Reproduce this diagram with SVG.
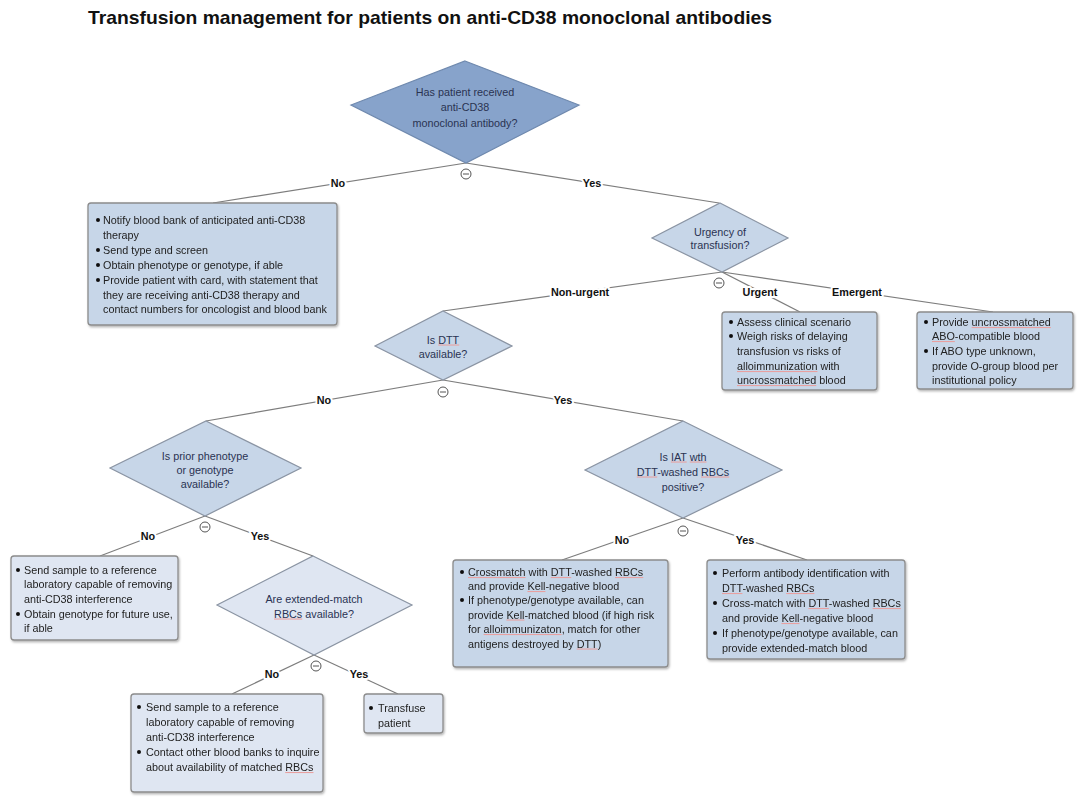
<svg xmlns="http://www.w3.org/2000/svg" width="1084" height="803" viewBox="0 0 1084 803">
<style>
text{font-family:"Liberation Sans",Arial,sans-serif;}
.title{font-size:19px;font-weight:bold;fill:#111;}
.dt{font-size:10.8px;fill:#2a3352;text-anchor:middle;}
.bt{font-size:10.8px;fill:#222;}
.lbl{font-size:10.8px;font-weight:bold;fill:#111;text-anchor:middle;stroke:#fff;stroke-width:4;paint-order:stroke;stroke-linejoin:round;}
.c1{fill:#87a3cb;stroke:#6f89ae;stroke-width:1.2;}
.c2{fill:#c7d6e8;stroke:#8a94a3;stroke-width:1.2;}
.c3{fill:#dfe6f2;stroke:#8a94a3;stroke-width:1.2;}
.box{stroke:#8c8c8c;stroke-width:1.3;}
.con line{stroke:#7d7d7d;stroke-width:1.2;}
.mc circle{fill:#fff;stroke:#555;stroke-width:1;}
.mc line{stroke:#555;stroke-width:1;}
.sp{text-decoration:underline;fill:#e8a0a0;}
.sp tspan{fill:#222;}
.dt .sp tspan{fill:#2a3352;}
</style>
<defs>
<filter id="sh" x="-10%" y="-10%" width="125%" height="130%">
<feDropShadow dx="1" dy="1.5" stdDeviation="1.2" flood-color="#000" flood-opacity="0.3"/>
</filter>
<symbol id="bul" overflow="visible"><circle cx="0" cy="0" r="2" fill="#111"/></symbol>
</defs>
<rect width="1084" height="803" fill="#fff"/>
<text class="title" x="88" y="24" textLength="684" lengthAdjust="spacingAndGlyphs">Transfusion management for patients on anti-CD38 monoclonal antibodies</text>

<g id="connectors" class="con">
<line x1="466" y1="163" x2="213" y2="203"/>
<line x1="466" y1="163" x2="719" y2="203"/>
<line x1="722" y1="272" x2="443" y2="311"/>
<line x1="722" y1="272" x2="800" y2="312"/>
<line x1="722" y1="272" x2="993" y2="312"/>
<line x1="443" y1="380" x2="206" y2="421"/>
<line x1="443" y1="380" x2="683" y2="421"/>
<line x1="205" y1="516" x2="100" y2="556"/>
<line x1="205" y1="516" x2="313" y2="556"/>
<line x1="683" y1="518" x2="562" y2="560"/>
<line x1="683" y1="518" x2="807" y2="560"/>
<line x1="314" y1="655" x2="232" y2="694"/>
<line x1="314" y1="655" x2="398" y2="694"/>
<g class="mc">
<circle cx="466" cy="174" r="5"/><line x1="463" y1="174" x2="469" y2="174"/>
<circle cx="719" cy="283" r="5"/><line x1="716" y1="283" x2="722" y2="283"/>
<circle cx="443" cy="392" r="5"/><line x1="440" y1="392" x2="446" y2="392"/>
<circle cx="205" cy="527" r="5"/><line x1="202" y1="527" x2="208" y2="527"/>
<circle cx="683" cy="531" r="5"/><line x1="680" y1="531" x2="686" y2="531"/>
<circle cx="316" cy="666" r="5"/><line x1="313" y1="666" x2="319" y2="666"/>
</g>
<text class="lbl" x="338" y="187">No</text>
<text class="lbl" x="592" y="187">Yes</text>
<text class="lbl" x="580" y="296">Non-urgent</text>
<text class="lbl" x="760" y="296">Urgent</text>
<text class="lbl" x="857" y="296">Emergent</text>
<text class="lbl" x="324" y="404">No</text>
<text class="lbl" x="563" y="404">Yes</text>
<text class="lbl" x="148" y="540">No</text>
<text class="lbl" x="260" y="540">Yes</text>
<text class="lbl" x="622" y="544">No</text>
<text class="lbl" x="745" y="544">Yes</text>
<text class="lbl" x="272" y="678">No</text>
<text class="lbl" x="359" y="678">Yes</text>
</g>

<g id="q-received">
<polygon class="c1" points="465,61 579,105 466,163 351,105"/>
<text class="dt" x="465" y="95.5">Has patient received</text>
<text class="dt" x="465" y="111">anti-CD38</text>
<text class="dt" x="465" y="126.5">monoclonal antibody?</text>
</g>

<g id="no-therapy" filter="url(#sh)">
<rect class="c2 box" x="88" y="203" width="249" height="122" rx="3"/>
<use href="#bul" x="98" y="220"/><use href="#bul" x="98" y="250"/><use href="#bul" x="98" y="265"/><use href="#bul" x="98" y="280"/>
<text class="bt" x="103" y="224">Notify blood bank of anticipated anti-CD38</text>
<text class="bt" x="103" y="239">therapy</text>
<text class="bt" x="103" y="254">Send type and screen</text>
<text class="bt" x="103" y="269">Obtain phenotype or genotype, if able</text>
<text class="bt" x="103" y="284">Provide patient with card, with statement that</text>
<text class="bt" x="103" y="298.5">they are receiving anti-CD38 therapy and</text>
<text class="bt" x="103" y="313">contact numbers for oncologist and blood bank</text>
</g>

<g id="q-urgency">
<polygon class="c2" points="720,203 788,238 722,272 652,238"/>
<text class="dt" x="720" y="235.5">Urgency of</text>
<text class="dt" x="720" y="249">transfusion?</text>
</g>

<g id="urgent" filter="url(#sh)">
<rect class="c2 box" x="722" y="312" width="155" height="78" rx="3"/>
<use href="#bul" x="731" y="322"/><use href="#bul" x="731" y="336"/>
<text class="bt" x="737" y="326">Assess clinical scenario</text>
<text class="bt" x="737" y="340">Weigh risks of delaying</text>
<text class="bt" x="737" y="355">transfusion vs risks of</text>
<text class="bt" x="737" y="370"><tspan class="sp"><tspan>alloimmunization</tspan></tspan> with</text>
<text class="bt" x="737" y="384"><tspan class="sp"><tspan>uncrossmatched</tspan></tspan> blood</text>
</g>

<g id="emergent" filter="url(#sh)">
<rect class="c2 box" x="917" y="312" width="156" height="77" rx="3"/>
<use href="#bul" x="926" y="322"/><use href="#bul" x="926" y="351"/>
<text class="bt" x="932" y="326">Provide <tspan class="sp"><tspan>uncrossmatched</tspan></tspan></text>
<text class="bt" x="932" y="340"><tspan class="sp"><tspan>ABO</tspan></tspan>-compatible blood</text>
<text class="bt" x="932" y="355">If ABO type unknown,</text>
<text class="bt" x="932" y="370">provide O-group blood per</text>
<text class="bt" x="932" y="384">institutional policy</text>
</g>

<g id="q-dtt">
<polygon class="c2" points="443,311 512,346 443,380 375,346"/>
<text class="dt" x="443" y="343.5">Is <tspan class="sp"><tspan>DTT</tspan></tspan></text>
<text class="dt" x="443" y="357.5">available?</text>
</g>

<g id="q-prior">
<polygon class="c2" points="206,421 301,468 205,516 110,468"/>
<text class="dt" x="205" y="459.5">Is prior phenotype</text>
<text class="dt" x="205" y="473.5">or genotype</text>
<text class="dt" x="205" y="487.5">available?</text>
</g>

<g id="q-iat">
<polygon class="c2" points="683,421 782,470 683,518 585,470"/>
<text class="dt" x="683" y="460.5">Is <tspan class="sp"><tspan>IAT</tspan></tspan> <tspan class="sp"><tspan>wth</tspan></tspan></text>
<text class="dt" x="683" y="475.5"><tspan class="sp"><tspan>DTT</tspan></tspan>-washed <tspan class="sp"><tspan>RBCs</tspan></tspan></text>
<text class="dt" x="683" y="490.5">positive?</text>
</g>

<g id="ref-lab-1" filter="url(#sh)">
<rect class="c3 box" x="11" y="556" width="167" height="84" rx="3"/>
<use href="#bul" x="18" y="570"/><use href="#bul" x="18" y="614"/>
<text class="bt" x="24" y="574">Send sample to a reference</text>
<text class="bt" x="24" y="588">laboratory capable of removing</text>
<text class="bt" x="24" y="603">anti-CD38 interference</text>
<text class="bt" x="24" y="618">Obtain genotype for future use,</text>
<text class="bt" x="24" y="632">if able</text>
</g>

<g id="q-extended">
<polygon class="c3" points="313,556 412,605 314,655 217,605"/>
<text class="dt" x="314" y="602.5">Are extended-match</text>
<text class="dt" x="314" y="617.5"><tspan class="sp"><tspan>RBCs</tspan></tspan> available?</text>
</g>

<g id="ref-lab-2" filter="url(#sh)">
<rect class="c3 box" x="131" y="694" width="192" height="98" rx="3"/>
<use href="#bul" x="139" y="707"/><use href="#bul" x="139" y="752"/>
<text class="bt" x="146" y="711">Send sample to a reference</text>
<text class="bt" x="146" y="726">laboratory capable of removing</text>
<text class="bt" x="146" y="741">anti-CD38 interference</text>
<text class="bt" x="146" y="756">Contact other blood banks to inquire</text>
<text class="bt" x="146" y="771">about availability of matched <tspan class="sp"><tspan>RBCs</tspan></tspan></text>
</g>

<g id="transfuse" filter="url(#sh)">
<rect class="c3 box" x="364" y="694" width="79" height="39" rx="3"/>
<use href="#bul" x="371" y="708"/>
<text class="bt" x="378" y="712">Transfuse</text>
<text class="bt" x="378" y="727">patient</text>
</g>

<g id="crossmatch" filter="url(#sh)">
<rect class="c2 box" x="453" y="560" width="215" height="107" rx="3"/>
<use href="#bul" x="462" y="572"/><use href="#bul" x="462" y="600"/>
<text class="bt" x="468" y="576"><tspan class="sp"><tspan>Crossmatch</tspan></tspan> with <tspan class="sp"><tspan>DTT</tspan></tspan>-washed <tspan class="sp"><tspan>RBCs</tspan></tspan></text>
<text class="bt" x="468" y="590">and provide <tspan class="sp"><tspan>Kell</tspan></tspan>-negative blood</text>
<text class="bt" x="468" y="604">If phenotype/genotype available, can</text>
<text class="bt" x="468" y="618.5">provide <tspan class="sp"><tspan>Kell</tspan></tspan>-matched blood (if high risk</text>
<text class="bt" x="468" y="633">for <tspan class="sp"><tspan>alloimmunizaton</tspan></tspan>, match for other</text>
<text class="bt" x="468" y="647.5">antigens destroyed by <tspan class="sp"><tspan>DTT</tspan></tspan>)</text>
</g>

<g id="antibody-id" filter="url(#sh)">
<rect class="c2 box" x="707" y="560" width="198" height="99" rx="3"/>
<use href="#bul" x="715" y="573"/><use href="#bul" x="715" y="603"/><use href="#bul" x="715" y="633"/>
<text class="bt" x="722" y="577">Perform antibody identification with</text>
<text class="bt" x="722" y="592"><tspan class="sp"><tspan>DTT</tspan></tspan>-washed <tspan class="sp"><tspan>RBCs</tspan></tspan></text>
<text class="bt" x="722" y="607">Cross-match with <tspan class="sp"><tspan>DTT</tspan></tspan>-washed <tspan class="sp"><tspan>RBCs</tspan></tspan></text>
<text class="bt" x="722" y="622">and provide <tspan class="sp"><tspan>Kell</tspan></tspan>-negative blood</text>
<text class="bt" x="722" y="637">If phenotype/genotype available, can</text>
<text class="bt" x="722" y="652">provide extended-match blood</text>
</g>
</svg>
